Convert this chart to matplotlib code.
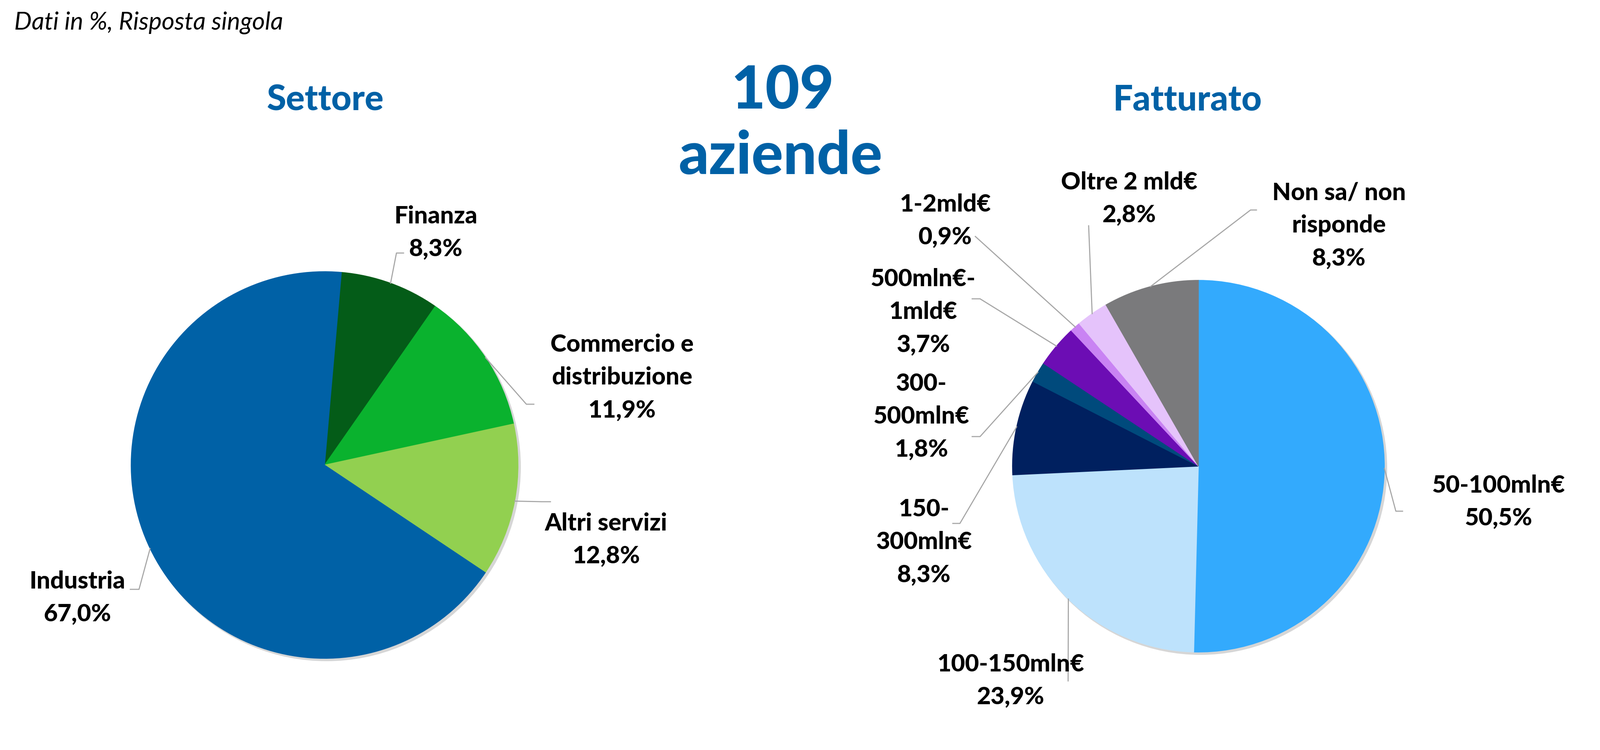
import numpy as np
import matplotlib.pyplot as plt
from matplotlib.patches import Circle

# Data
settore_labels = ["Finanza", "Commercio e\ndistribuzione", "Altri servizi", "Industria"]
settore_values = [8.3, 11.9, 12.8, 67.0]
settore_colors = ["#045C18", "#0AB22E", "#92D050", "#0061A6"]

fatturato_labels = ["50-100mln€", "100-150mln€", "150-\n300mln€", "300-\n500mln€",
                    "500mln€-\n1mld€", "1-2mld€", "Oltre 2 mld€", "Non sa/ non\nrisponde"]
fatturato_values = [50.5, 23.9, 8.3, 1.8, 3.7, 0.9, 2.8, 8.3]
fatturato_colors = ["#33AAFD", "#BDE2FC", "#00205F", "#004A7C",
                    "#6C0DB4", "#C983F3", "#E5C3FB", "#7A7A7C"]

n_aziende = 109

# Layout (image pixels, y from top)
W, H = 4052, 1900
BLUE = "#0061A6"
LINE = "#A6A6A6"
FONT = ["Lato", "DejaVu Sans"]

left_pie = dict(center=(822, 1178), radius=490, start=85)
right_pie = dict(center=(3035, 1181), radius=471, start=90)

# label centre, leader path (knee, end)
left_layout = [
    ((1104, 589), [(1004, 641), (1022, 641)]),
    ((1575, 956), [(1333, 1024), (1352, 1024)]),
    ((1535, 1367), [(1372, 1271), (1394, 1271)]),
    ((196, 1514), [(352, 1493), (330, 1493)]),
]
right_layout = [
    ((3795, 1271), [(3535, 1295), (3552, 1295)]),
    ((2560, 1724), [(2705, 1725)]),
    ((2340, 1373), [(2431, 1326), (2413, 1326)]),
    ((2333, 1055), [(2482, 1106), (2462, 1106)]),
    ((2338, 790), [(2482, 757), (2462, 757)]),
    ((2394, 559), [(2470, 599)]),
    ((2860, 503), [(2757, 572)]),
    ((3391, 571), [(3167, 532), (3182, 532)]),
]


def fmt(v):
    return f"{v:.1f}".replace(".", ",") + "%"


def to_ax(x, y):
    return x, H - y


fig = plt.figure(figsize=(W / 200, H / 200), dpi=200)
ax = fig.add_axes([0, 0, 1, 1])


def draw_pie(values, colors, labels, pie, layout):
    cx, cy = to_ax(*pie["center"])
    r = pie["radius"]
    # soft shadow
    ax.add_patch(Circle((cx + 5, cy - 5), r + 2, color="#8C8C8C", alpha=0.35, lw=0, zorder=0.5))
    wedges, _ = ax.pie(values, colors=colors, startangle=pie["start"], counterclock=False,
                       center=(cx, cy), radius=r, wedgeprops=dict(linewidth=0.6))
    for w, lab, v, (tpos, path) in zip(wedges, labels, values, layout):
        w.set_edgecolor(w.get_facecolor())
        mid = np.deg2rad((w.theta1 + w.theta2) / 2)
        xs = [cx + r * np.cos(mid)] + [p[0] for p in path]
        ys = [cy + r * np.sin(mid)] + [H - p[1] for p in path]
        ax.plot(xs, ys, color=LINE, lw=1.0, zorder=1.5)
        tx, ty = to_ax(*tpos)
        ax.text(tx, ty, f"{lab}\n{fmt(v)}", ha="center", va="center", multialignment="center",
                fontsize=22, fontweight="black", family=FONT, linespacing=1.58, zorder=3)


draw_pie(settore_values, settore_colors, settore_labels, left_pie, left_layout)
draw_pie(fatturato_values, fatturato_colors, fatturato_labels, right_pie, right_layout)

ax.set_xlim(0, W)
ax.set_ylim(0, H)
ax.set_aspect("auto")
ax.axis("off")

# titles
ax.text(36, H - 75, "Dati in %, Risposta singola", ha="left", va="baseline",
        fontsize=22.5, fontstyle="italic", family=FONT)
ax.text(823, H - 280, "Settore", ha="center", va="baseline",
        fontsize=32, fontweight="black", color=BLUE, family=FONT)
ax.text(3007, H - 280, "Fatturato", ha="center", va="baseline",
        fontsize=32, fontweight="black", color=BLUE, family=FONT)
ax.text(1982, H - 275, str(n_aziende), ha="center", va="baseline",
        fontsize=54, fontweight="black", color=BLUE, family=FONT)
ax.text(1977, H - 441, "aziende", ha="center", va="baseline",
        fontsize=54, fontweight="black", color=BLUE, family=FONT)

fig.savefig("out.png", dpi=200, facecolor="white")
